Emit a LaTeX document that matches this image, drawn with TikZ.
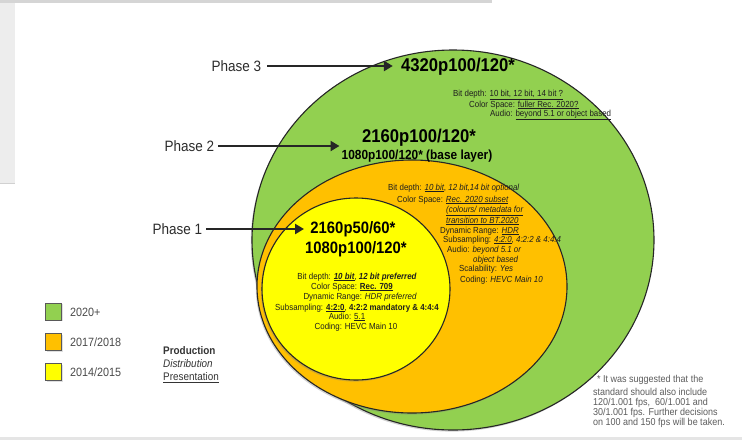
\documentclass[tikz,border=0pt]{standalone}
\usepackage{fontspec}
\setmainfont{Liberation Sans}
\newfontfamily\nar[FakeStretch=0.9]{Liberation Sans}
\usetikzlibrary{arrows.meta,shadows}

\definecolor{eragreen}{HTML}{92D050}
\definecolor{eraorange}{HTML}{FFC000}
\definecolor{erayellow}{HTML}{FFFF00}
\definecolor{panelgrey}{HTML}{EDEDED}
\definecolor{inktext}{HTML}{1E1E1E}
\definecolor{softtext}{HTML}{4A4A4A}

\newcommand{\fsz}[2]{\fontsize{#1}{#2}\selectfont}

\begin{document}
\begin{tikzpicture}[x=1pt,y=-1pt,
  ring/.style={draw=black!85, line width=1.1pt,
    drop shadow={shadow xshift=-1.2pt, shadow yshift=-1.6pt, opacity=.35}},
  phase/.style={font=\nar\fsz{15}{17}, text=softtext!60!black, inner sep=1pt},
  resbig/.style={font=\nar\bfseries\fsz{18.5}{20}, inner sep=1pt},
  resmid/.style={font=\nar\bfseries\fsz{16.5}{18}, inner sep=1pt},
  ressmall/.style={font=\nar\bfseries\fsz{13.2}{15}, inner sep=1pt},
  info/.style={font=\nar\fsz{8.8}{10}, text=inktext, inner sep=0pt, anchor=west},
  infoc/.style={font=\nar\fsz{8.8}{10}, text=inktext, inner sep=0pt},
  pointer/.style={-{Triangle[length=9pt,width=10pt]}, line width=2.6pt, draw=black!85},
  swatch/.style={draw=black!65, line width=0.8pt, minimum width=16pt,
    minimum height=17pt, inner sep=0pt,
    drop shadow={shadow xshift=1pt, shadow yshift=-1pt, opacity=.25}},
  legtext/.style={font=\nar\fsz{12}{14}, text=softtext, anchor=west, inner sep=0pt},
  usetext/.style={font=\nar\fsz{11}{13}, text=softtext!70!black, anchor=west, inner sep=0pt},
  notetext/.style={font=\nar\fsz{10}{11}, text=softtext!90, anchor=west, inner sep=0pt}
]
\useasboundingbox (0,0) rectangle (742,440);
\fill[white] (0,0) rectangle (742,440);

% window frame remnants
\fill[panelgrey] (0,0) rectangle (15,183);
\fill[panelgrey!90!black] (0,0) rectangle (492,2.5);
\draw[black!18, line width=1pt] (0,183) -- (15,183);
\fill[black!10] (0,436.5) rectangle (742,440);

% nested eras
\path[ring, fill=eragreen]  (453,240) ellipse [x radius=201, y radius=190];
\path[ring, fill=eraorange] (412,286.5) ellipse [x radius=155, y radius=126.5];
\path[ring, fill=erayellow] (356,289) ellipse [x radius=94, y radius=91];

% phase labels and headline formats
\node[phase] (ph3) at (236.5,66) {Phase 3};
\node[phase] (ph2) at (189.5,146) {Phase 2};
\node[phase] (ph1) at (177.5,229) {Phase 1};

\node[resbig] (r3) at (458,67) {4320p100/120*};
\node[resbig] (r2a) at (419,138) {2160p100/120*};
\node[ressmall] (r2b) at (417,156) {1080p100/120* (base layer)};
\node[resmid] (r1a) at (353,229) {2160p50/60*};
\node[resmid] (r1b) at (356,249) {1080p100/120*};

\draw[pointer, shorten <=5pt, shorten >=7pt] (ph3.east) -- (ph3.east -| r3.west);
\draw[pointer, shorten <=3pt, shorten >=1pt] (ph2.east) -- (ph2.east -| r2b.west);
\draw[pointer, shorten <=3pt, shorten >=0pt] (ph1.east) -- (ph1.east -| r1b.west);

% phase 3 details
\node[info] (g1) at (453,95)  {Bit depth: \underline{10 bit, 12 bit, 14 bit ?}};
\node[info] (g2) at (469,105) {Color Space: \underline{fuller Rec. 2020?}};
\node[info] (g3) at (490,115) {Audio: \underline{beyond 5.1 or object based}};

% phase 2 details
\node[info] (o1)  at (388,188) {Bit depth: \underline{\itshape 10 bit}, \itshape 12 bit,14 bit optional};
\node[info] (o2)  at (397,200) {Color Space: \underline{\itshape Rec. 2020 subset}};
\node[info] (o3)  at (446,211) {\underline{\itshape (colours/ metadata for}};
\node[info] (o4)  at (446,221) {\underline{\itshape transition to BT.2020}};
\node[info] (o5)  at (440,231) {Dynamic Range: \underline{\itshape HDR}};
\node[info] (o6)  at (443,240) {Subsampling: \underline{\itshape 4:2:0}, \itshape 4:2:2 \& 4:4:4};
\node[info] (o7)  at (447,250) {Audio: \itshape beyond 5.1 or};
\node[info] (o8)  at (473,260) {\itshape object based};
\node[info] (o9)  at (459,269) {Scalability: \itshape Yes};
\node[info] (o10) at (460,280) {Coding: \itshape HEVC Main 10};

% phase 1 details
\node[infoc] (y1) at (357,277) {Bit depth: \underline{\bfseries\itshape 10 bit}, {\bfseries\itshape 12 bit preferred}};
\node[infoc] (y2) at (352,287) {Color Space: \underline{\bfseries Rec. 709}};
\node[infoc] (y3) at (360,297) {Dynamic Range: \itshape HDR preferred};
\node[infoc] (y4) at (357,308) {Subsampling: \underline{\bfseries 4:2:0}, {\bfseries 4:2:2 mandatory \& 4:4:4}};
\node[infoc] (y5) at (347,317) {Audio: \underline{5.1}};
\node[infoc] (y6) at (356,327) {Coding: HEVC Main 10};

% legend
\node[swatch, fill=eragreen]  (k3) at (53.5,311.5) {};
\node[swatch, fill=eraorange] (k2) at (53.5,342) {};
\node[swatch, fill=erayellow] (k1) at (53.5,372) {};
\node[legtext] (t3) at (70,312) {2020+};
\node[legtext] (t2) at (70,342) {2017/2018};
\node[legtext] (t1) at (70,372) {2014/2015};

\node[usetext] (u1) at (163,351) {\bfseries Production};
\node[usetext] (u2) at (163,363.5) {\itshape Distribution};
\node[usetext] (u3) at (163,378) {\underline{Presentation}};

% footnote
\node[notetext] (n1) at (597,380) {* It was suggested that the};
\node[notetext] (n2) at (593,392) {standard should also include};
\node[notetext] (n3) at (593,402.5) {120/1.001 fps,\ \ 60/1.001 and};
\node[notetext] (n4) at (593,412.5) {30/1.001 fps. Further decisions};
\node[notetext] (n5) at (593,422.5) {on 100 and 150 fps will be taken.};
\end{tikzpicture}
\end{document}
